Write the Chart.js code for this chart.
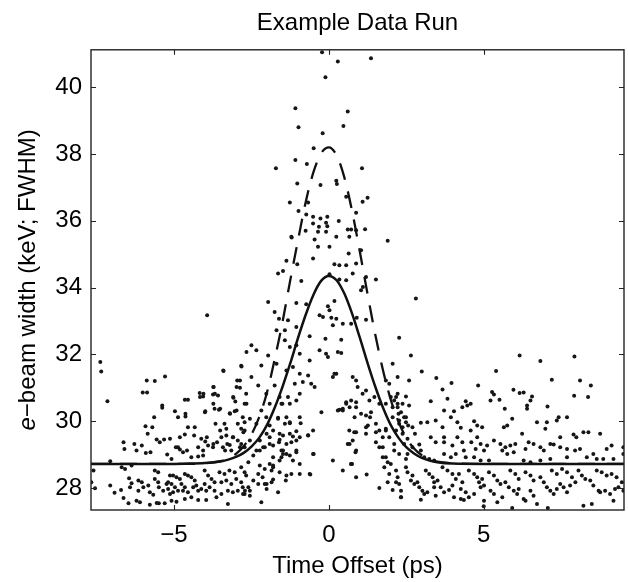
<!DOCTYPE html>
<html>
<head>
<meta charset="utf-8">
<script src="https://cdn.jsdelivr.net/npm/chart.js@4.4.0/dist/chart.umd.min.js"></script>
<style>
  html, body { margin: 0; padding: 0; background: #fff; }
  canvas { display: block; }
</style>
</head>
<body>
<canvas id="chart" width="628" height="582"></canvas>
<script>
// axis limits and ticks
const xRange = [-7.68, 9.53];
const yRange = [27.34, 41.12];
const xTicks = [-5, 0, 5];
const yTicks = [28, 30, 32, 34, 36, 38, 40];

// fitted curves
const fitX = [-7.68, -5, -4.5, -4, -3.5, -3.25, -3, -2.75, -2.5, -2.25, -2, -1.75, -1.5, -1.25, -1, -0.75, -0.5, -0.25, 0,
  0.25, 0.5, 0.75, 1, 1.25, 1.5, 1.75, 2, 2.25, 2.5, 2.75, 3, 3.25, 3.5, 4, 5, 9.53];
const solidFit = [28.72, 28.72, 28.73, 28.75, 28.79, 28.85, 28.93, 29.05, 29.24, 29.50, 29.88, 30.40, 31.02, 31.72, 32.48, 33.18, 33.78, 34.20, 34.35,
  34.22, 33.82, 33.22, 32.50, 31.74, 31.03, 30.40, 29.88, 29.50, 29.22, 29.03, 28.90, 28.82, 28.77, 28.73, 28.72, 28.72];
const dashedFit = [28.72, 28.72, 28.72, 28.74, 28.80, 28.88, 29.02, 29.25, 29.60, 30.12, 30.85, 31.85, 32.95, 34.20, 35.40, 36.55, 37.45, 38.02, 38.20,
  37.96, 37.30, 36.29, 35.08, 33.80, 32.59, 31.52, 30.64, 29.98, 29.50, 29.18, 28.98, 28.86, 28.79, 28.74, 28.72, 28.72];

// measured points, [time offset, width]
const dotsLeft = [
  [-3.93,33.17],[-7.38,31.77],[-7.35,31.49],[-7.15,30.6],[-3.40,31.5],[-2.83,31.66],[-5.88,31.22],[-5.62,31.2],[-5.29,31.34],
  [-6.01,30.86],[-5.87,30.86],[-5.38,30.47],[-5.38,30.4],[-4.65,30.64],[-4.55,30.64],[-4.17,30.84],[-4.06,30.74],[-3.72,31.02],
  [-3.74,30.8],[-3.58,30.77],[-3.99,30.3],[-3.69,30.37],[-3.55,30.34],[-2.96,31.22],[-2.87,31.0],[-3.08,30.7],[-3.02,30.59],
  [-3.2,30.24],[-3.04,30.3],[-4.97,30.3],[-4.87,30.12],[-4.63,30.22],[-4.63,30.14],[-5.64,30.12],[-5.92,29.85],[-5.70,29.82],
  [-5.85,29.62],[-6.63,29.37],[-6.6,29.17],[-6.28,29.32],[-6.04,29.27],[-6.21,29.12],[-5.91,29.05],[-5.76,29.07],[-7.06,28.8],
  [-5.56,29.45],[-5.46,29.37],[-5.32,29.45],[-5.13,29.47],[-5.22,29.0],[-5.08,28.87],[-4.94,29.22],[-4.87,29.22],[-4.81,29.15],
  [-4.71,29.07],[-4.58,29.12],[-4.81,29.52],[-4.65,29.6],[-4.55,29.82],[-4.33,29.82],[-4.35,29.57],[-4.12,29.47],[-3.99,29.39],
  [-4.22,29.22],[-4.06,29.12],[-4.44,28.92],[-4.22,28.94],[-4.06,28.97],[-3.9,29.27],[-3.74,29.22],[-3.61,29.37],[-3.66,29.92],
  [-3.37,29.92],[-3.31,29.77],[-3.47,29.52],[-3.31,29.57],[-3.2,29.29],[-3.42,29.22],[-3.28,29.32],[-3.15,29.12],[-3.1,29.52],
  [-2.94,29.42],[-2.83,29.32],[-2.72,29.22],[-2.94,29.92],[-2.83,29.77],[-2.72,29.72],[-2.78,30.12],[-2.72,29.97],[-2.67,30.82],
  [-2.72,30.52],[-2.66,32.07],[-2.82,31.64],[-2.87,31.22],[-2.98,31.02],[-3.41,31.52],[-3.73,31.02],[-3.68,30.82],[-4.05,30.82],
  [-4.16,30.72],[-4.0,30.27],[-3.73,30.52],[-3.51,30.37],[-3.19,30.22],[-2.98,30.32],[-3.09,30.72],[-2.66,30.52],[-2.55,30.07],
  [-3.94,29.52],[-3.73,29.32],[-3.51,29.72],[-3.35,29.12],[-3.09,29.52],[-2.87,29.22],[-2.76,29.67],[-2.55,29.42],
  [-7.6,28.52],[-7.55,27.99],[-7.67,28.17],[-7.06,28.07],[-6.92,27.86],[-6.71,27.94],[-6.63,27.7],[-6.69,28.62],[-6.58,28.57],
  [-6.37,28.67],[-6.45,28.29],[-6.37,28.14],[-6.42,28.02],[-6.15,28.22],[-6.04,28.17],[-6.15,27.92],[-5.99,28.02],[-6.21,27.62],
  [-6.1,27.57],[-5.78,27.5],[-6.47,27.54],[-5.78,27.87],[-5.67,27.8],[-5.83,28.07],[-5.62,28.52],[-5.51,28.47],[-5.62,28.27],
  [-5.51,28.17],[-5.49,28.02],[-5.35,27.92],[-5.24,28.12],[-5.19,27.97],[-5.56,27.55],[-5.49,27.54],[-5.3,27.54],[-5.08,27.62],
  [-4.92,27.59],[-5.13,28.37],[-5.03,28.37],[-4.92,28.32],[-4.81,28.27],[-5.19,28.17],[-5.08,28.12],[-4.97,28.02],[-4.87,27.92],
  [-5.03,27.87],[-5.13,27.82],[-4.76,28.12],[-4.65,28.02],[-4.71,27.92],[-4.55,27.87],[-4.65,28.42],[-4.55,28.37],[-4.44,28.32],
  [-4.33,28.22],[-4.38,28.02],[-4.22,27.92],[-4.28,28.07],[-4.12,27.97],[-4.65,27.67],[-4.44,27.72],[-4.22,27.64],[-3.96,27.64],
  [-4.01,28.52],[-3.9,28.37],[-3.79,28.27],[-3.69,28.17],[-4.01,28.12],[-3.85,28.02],[-3.69,27.92],[-3.96,27.92],[-3.63,27.72],
  [-3.47,27.82],[-3.26,27.52],[-3.53,28.47],[-3.37,28.42],[-3.21,28.52],[-3.04,28.47],[-3.47,28.17],[-3.31,28.22],[-3.15,28.12],
  [-2.99,28.27],[-2.83,28.17],[-3.26,27.92],[-3.1,27.87],[-2.94,27.92],[-2.78,28.02],[-2.72,27.82],[-2.83,28.62],[-2.72,28.47],
  [-2.67,28.37],[-2.71,27.92],[-2.6,28.02],[-2.77,27.82],[-2.55,27.77]
];
const dotsCentre = [
  [-2.18,27.57],[-1.64,27.87],[-2.01,28.12],[-1.85,28.17],[-2.28,28.42],[-2.14,28.32],[-2.44,28.22],[-2.23,28.67],[-2.07,28.57],
  [-1.91,28.72],[-1.8,28.62],[-1.59,28.47],[-1.37,28.37],[-1.21,28.42],[-0.94,28.42],[-0.62,28.42],[-1.53,28.92],[-1.37,29.02],
  [-1.05,29.07],[-1.48,29.12],[-0.51,29.02],[-1.91,29.32],[-1.8,29.27],[-1.61,29.37],[0.61,29.32],[0.72,28.72],
  [-0.24,30.27],[-0.67,29.57],[-0.49,29.02],[-0.6,28.4],[-1.39,28.22],[-0.91,29.94],[-1.05,29.7],[-1.26,29.94],[-1.42,29.92],
  [-1.16,29.54],[-1.21,29.37],[-1.48,29.57],[-1.59,29.44],[-1.26,28.97],[-1.48,29.02],[-1.59,28.82],[-1.8,28.67],[-1.85,28.52],
  [-1.8,28.25],[-2.01,27.97],[-2.07,28.12],[-2.28,28.12],[-2.55,27.92],[-1.64,30.1],[-1.91,29.87],[-1.8,29.72],[-2.01,29.62],
  [-2.23,29.42],[-2.07,29.22],[-2.23,29.12],[-2.44,28.97],[-2.6,28.77],[-1.5,30.52],
  [0.34,30.34],[0.45,30.32],[0.56,30.57],[0.88,30.57],[0.67,30.42],[0.83,30.12],[0.88,29.67],[0.67,29.32],[0.86,29.07],
  [0.75,28.72],[1.22,28.4],[1.2,30.17],[1.33,30.12],[1.26,29.87],[1.2,29.62],[1.52,29.67],[1.52,29.37],[1.63,29.22],[1.74,29.52],
  [1.84,29.77],[1.74,28.92],[1.9,28.77],[1.79,28.62],[1.95,28.42],[1.9,28.17],[1.63,28.0],[2.06,27.94],[2.33,27.72],[2.17,28.17],
  [2.11,29.12],[2.27,29.02],[2.43,29.32],[2.49,28.87],[2.27,30.02],[2.38,29.82],[2.49,30.12],[2.06,30.42],[2.22,30.52],
  [-1.21,35.52],[-0.35,35.67],[-0.09,35.67],[0.24,35.52],[0.66,35.52],[0.88,35.72],[-0.46,35.44],[-0.35,35.22],[0.02,35.22],
  [-0.51,34.87],[0.64,35.02],[1.04,35.12],[1.9,35.4],[-1.37,34.8],[-1.02,34.7],[0.18,34.7],[0.34,34.67],[0.56,34.67],[0.88,34.72],
  [0.77,34.42],[0.56,34.22],[0.34,34.24],[-0.89,34.2],[-1.48,34.5],[-1.64,34.42],[0.02,34.4],[1.2,34.32],[1.52,34.24],[1.04,33.92],
  [1.1,34.02],[-1.96,33.57],[-1.05,33.54],[-0.73,33.5],[-1.75,33.27],[-0.03,33.44],[0.02,33.32],[0.18,33.6],[-0.3,33.17],
  [-0.19,33.12],[0.08,33.1],[0.24,33.07],[0.72,32.92],[0.45,32.92],[0.9,33.1],[1.2,33.04],[-1.61,33.07],[-1.32,33.02],
  [-1.05,32.82],[-1.42,32.72],[-1.69,32.72],[-0.62,32.54],[-0.11,32.47],[0.4,32.44],[0.13,32.87],[-2.5,32.27],[-2.34,32.12],
  [-1.96,31.97],[-1.42,32.42],[-1.26,32.22],[-1.05,32.27],[-0.94,32.02],[-0.62,31.82],[-0.3,32.12],[-0.09,32.02],[-0.03,31.92],
  [0.29,32.07],[0.4,32.04],[-2.18,31.67],[-2.5,31.32],[-1.69,31.72],[-1.37,31.52],[-1.16,31.62],[-0.94,31.42],[-0.67,31.37],
  [-1.1,31.12],[-0.84,31.17],[-0.57,31.12],[-0.94,30.82],[-2.28,31.07],[-2.02,30.82],[-1.75,31.07],[-1.59,30.72],[-1.32,30.72],
  [-1.05,30.62],[-1.53,30.52],[-1.26,30.52],[0.13,31.32],[0.18,31.42],[0.24,31.42],[-0.46,31.02],[0.77,31.32],[0.88,31.22],
  [0.93,31.02],[1.09,30.82],[1.2,30.92],[1.31,30.62],[1.47,30.72],[1.63,30.52],[1.84,30.52],[2.0,30.72],[0.56,30.52],[0.72,30.62],
  [0.88,30.42],[1.04,30.22],[1.36,30.27],[1.2,29.82],[1.52,29.92],[1.63,29.72],[0.29,30.32],[0.45,30.37],[0.66,29.72],[0.77,29.42],
  [0.88,29.12],[0.82,29.67],[1.84,31.22],[1.95,31.12],[2.06,31.72],[2.17,30.72],[2.25,30.22],[2.06,30.12],[1.84,29.72],[1.95,29.52],
  [2.11,29.32],[1.74,29.22],[1.84,28.92],[2.0,28.72],[-2.18,30.32],[-2.02,30.12],[-1.91,30.52],[-1.64,30.07],[-1.37,30.12],
  [-1.26,29.97],[-1.59,29.62],[-1.26,29.62],[-1.05,29.42],[-0.94,29.52],[-1.05,29.12],[-1.16,28.82],[-0.94,28.72],[-2.34,29.92],
  [-2.34,29.12],[-2.12,29.22],[-1.91,29.52],[-1.8,28.92],[-1.53,29.12],[-1.37,29.32],[-0.51,29.72],[-0.67,29.58],[-0.94,30.12],
  [0.13,28.82],[0.45,28.52],[0.72,28.72],[0.88,28.32],
  [-0.22,41.05],[0.29,40.77],[1.36,40.87],[-0.11,40.3],[-1.08,39.37],[0.61,39.27],[-0.98,38.8],[0.47,38.84],[-0.2,38.62],
  [-0.49,38.17],[-1.08,37.82],[-0.71,37.7],[-1.71,37.57],[1.07,37.57],[-1.02,37.12],[-0.27,37.07],[0.24,37.2],[0.26,37.1],
  [0.56,36.72],[1.25,36.69],[1.09,36.57],[-1.26,36.55],[-0.67,36.55],[-0.98,36.29],[-0.73,36.19],[-0.51,36.12],[-0.27,36.07],
  [-0.05,36.12],[0.32,35.99],[0.88,36.24],[-0.51,35.92],[-0.32,35.82],[-0.09,35.94],[-0.05,35.84],[-0.75,35.7],[0.61,35.74],
  [0.72,35.74],[1.17,35.75],[-1.2,35.5]
];
const dotsRight = [
  [2.81,33.67],[2.27,32.5],[2.65,31.97],[6.16,31.97],[6.83,31.8],[7.93,31.94],[5.4,31.5],[3.0,31.49],[2.22,31.32],[2.59,31.22],
  [3.47,31.29],[3.96,31.14],[3.67,30.95],[4.82,31.07],[7.2,31.24],[8.11,31.22],[8.46,31.07],[7.92,30.76],[8.37,30.72],
  [5.96,30.94],[6.29,30.86],[6.16,30.84],[5.27,30.87],[5.33,30.8],[5.51,30.64],[5.22,30.62],[6.56,30.74],[6.51,30.62],[6.4,30.47],
  [6.4,30.37],[2.22,30.82],[2.49,30.74],[2.38,30.52],[2.59,30.47],[3.29,30.6],[3.83,30.67],[3.72,30.32],[4.04,30.3],[4.42,30.6],
  [4.58,30.52],[4.31,30.42],[4.47,30.47],[5.68,30.37],[5.92,30.07],[5.76,29.87],[5.65,29.82],[7.06,30.44],[7.04,29.97],[7.42,30.12],
  [7.36,30.02],[7.69,30.12],[6.72,29.97],[6.99,29.77],[7.47,29.52],[7.9,29.6],[7.99,29.52],[8.22,29.67],[8.38,29.67],[8.76,29.62],
  [2.56,29.87],[2.7,29.82],[2.97,29.95],[3.18,29.97],[3.45,30.02],[3.67,29.82],[3.94,30.12],[4.15,29.97],[4.26,29.8],[4.69,30.0],
  [4.79,29.87],[4.95,29.82],[4.58,29.72],[2.78,29.62],[2.92,29.3],[3.29,29.52],[3.45,29.37],[3.72,29.37],[3.99,29.27],[3.72,29.52],
  [4.15,29.52],[4.31,29.37],[4.36,29.12],[4.79,29.52],[4.9,29.32],[5.11,29.27],[5.01,29.12],[4.74,29.17],[4.6,29.37],[5.33,29.42],
  [5.54,29.32],[5.7,29.22],[5.86,29.27],[6.02,29.32],[5.97,29.07],[5.76,29.02],[5.6,29.12],[6.24,29.62],[6.45,29.37],[6.61,29.32],
  [6.35,29.17],[6.83,29.22],[6.94,29.12],[7.15,29.32],[7.26,29.3],[7.47,29.22],[7.69,29.17],[7.69,28.92],[7.95,29.12],[8.11,29.17],
  [8.54,29.02],[8.97,29.17],[9.13,29.27],[9.19,28.87],[9.51,29.22],[9.51,29.02],[8.33,28.92],[8.65,28.87],[8.86,28.87],
  [3.72,29.02],[3.94,28.92],[4.1,29.02],[4.42,28.92],[4.69,28.92],[4.9,28.82],[5.17,28.82],[6.29,28.82],[6.51,28.77],[6.83,28.82],
  [7.15,28.87],[2.11,30.62],[2.22,30.42],[2.33,30.27],[2.43,30.12],[2.49,29.97],[2.27,29.92],[2.17,29.72],[2.38,29.62],[2.54,29.47],
  [2.7,29.22],[2.54,29.02],[2.97,29.12],[3.08,28.92],[3.24,28.87],[3.4,28.82],
  [2.17,28.52],[2.22,28.32],[2.27,28.12],[2.33,27.92],[2.33,27.72],[2.49,28.62],[2.54,28.47],[2.7,28.37],[2.65,28.22],[2.76,28.12],
  [2.86,28.17],[2.92,28.02],[3.02,27.92],[3.08,27.82],[3.18,27.87],[2.97,27.65],[3.13,28.52],[3.24,28.42],[3.35,28.32],[3.4,28.17],
  [3.51,28.22],[3.4,28.02],[3.45,27.77],[3.61,28.02],[3.72,27.87],[3.88,27.94],[3.99,28.07],[4.04,27.72],[3.67,28.62],[3.83,28.52],
  [3.99,28.42],[4.1,28.27],[4.2,28.42],[4.31,28.17],[4.26,27.97],[4.42,27.87],[4.26,27.67],[4.36,27.64],[4.52,27.72],[4.69,27.82],
  [4.52,28.52],[4.69,28.42],[4.79,28.32],[4.95,28.27],[4.85,28.17],[5.01,28.07],[4.9,28.02],[5.01,27.62],[5.22,27.92],[5.33,27.82],
  [5.44,27.57],[5.6,27.72],[5.17,28.47],[5.33,28.37],[5.44,28.22],[5.54,28.12],[5.7,28.17],[5.81,28.02],[5.86,28.52],[6.02,28.42],
  [6.13,28.27],[5.97,27.92],[6.08,27.82],[6.13,27.97],[6.29,27.67],[6.35,27.62],[6.51,27.92],[6.61,27.77],[6.72,27.52],[6.35,28.47],
  [6.51,28.37],[6.61,28.22],[6.83,28.32],[6.94,28.17],[7.04,28.02],[7.15,27.92],[7.26,27.82],[7.36,27.97],[7.47,28.12],[7.58,28.02],
  [7.69,27.87],[7.79,28.07],[7.2,28.52],[7.36,28.42],[7.53,28.57],[7.69,28.47],[7.85,28.32],[7.96,28.17],[8.06,28.52],[8.17,28.37],
  [8.28,28.27],[8.44,28.22],[8.54,28.07],[8.71,27.92],[8.22,27.47],[8.49,27.52],[8.76,27.87],[8.92,27.92],[9.08,27.82],[9.24,27.97],
  [8.65,28.52],[8.81,28.47],[8.97,28.37],[9.13,28.42],[9.29,28.32],[9.46,28.17],[9.35,28.02],[9.51,27.92],[9.19,27.62],
  [5.0,27.45],[5.92,27.4],[7.07,27.4]
];

const FONT = '"Liberation Sans", Arial, Helvetica, sans-serif';
const INK = '#111';

const toPoints = (xs, ys) => xs.map((x, i) => ({ x: x, y: ys[i] }));
const pairPoints = (list) => list.map(p => ({ x: p[0], y: p[1] }));
const minus = (v) => String(v).replace('-', '\u2212');

// box round the plot, inward ticks on all four sides, and the y label with an italic e
const framePlugin = {
  id: 'frame',
  afterDraw(chart) {
    const { ctx, chartArea: a, scales } = chart;
    const tick = 5;
    ctx.save();
    ctx.strokeStyle = '#222';
    ctx.lineWidth = 1.4;
    ctx.strokeRect(a.left, a.top, a.right - a.left, a.bottom - a.top);
    ctx.lineWidth = 1.1;
    ctx.beginPath();
    scales.x.ticks.forEach(t => {
      const px = Math.round(scales.x.getPixelForValue(t.value)) + 0.5;
      ctx.moveTo(px, a.bottom); ctx.lineTo(px, a.bottom - tick);
      ctx.moveTo(px, a.top); ctx.lineTo(px, a.top + tick);
    });
    scales.y.ticks.forEach(t => {
      const py = Math.round(scales.y.getPixelForValue(t.value)) + 0.5;
      ctx.moveTo(a.left, py); ctx.lineTo(a.left + tick, py);
      ctx.moveTo(a.right, py); ctx.lineTo(a.right - tick, py);
    });
    ctx.stroke();

    // y axis title
    const size = 24;
    const italic = 'italic ' + size + 'px ' + FONT;
    const upright = size + 'px ' + FONT;
    const head = 'e';
    const rest = '\u2212beam width (keV; FWHM)';
    ctx.font = italic;
    const w1 = ctx.measureText(head).width;
    ctx.font = upright;
    const w2 = ctx.measureText(rest).width;
    const cy = (a.top + a.bottom) / 2;
    ctx.translate(35, cy);
    ctx.rotate(-Math.PI / 2);
    ctx.fillStyle = '#000';
    ctx.textBaseline = 'alphabetic';
    ctx.textAlign = 'left';
    const start = -(w1 + w2) / 2;
    ctx.font = italic;
    ctx.fillText(head, start, 0);
    ctx.font = upright;
    ctx.fillText(rest, start + w1, 0);
    ctx.restore();
  }
};

new Chart(document.getElementById('chart'), {
  type: 'scatter',
  data: {
    datasets: [
      {
        label: 'fit',
        data: toPoints(fitX, solidFit),
        showLine: true,
        borderColor: INK,
        borderWidth: 2.5,
        pointRadius: 0,
        cubicInterpolationMode: 'monotone',
        order: 0
      },
      {
        label: 'fit (dashed)',
        data: toPoints(fitX, dashedFit),
        showLine: true,
        borderColor: INK,
        borderWidth: 2.3,
        borderDash: [17, 12],
        pointRadius: 0,
        cubicInterpolationMode: 'monotone',
        order: 1
      },
      {
        label: 'data',
        data: pairPoints(dotsLeft.concat(dotsCentre, dotsRight)),
        pointRadius: 2,
        pointBorderWidth: 0,
        pointBackgroundColor: '#161616',
        order: 2
      }
    ]
  },
  options: {
    responsive: false,
    devicePixelRatio: 1,
    animation: false,
    events: [],
    layout: { padding: { left: 0, right: 2, top: 0, bottom: 0 } },
    plugins: {
      legend: { display: false },
      tooltip: { enabled: false },
      title: {
        display: true,
        text: 'Example Data Run',
        fullSize: false,
        color: '#000',
        font: { family: FONT, size: 24, weight: 'normal', lineHeight: 1.2 },
        padding: { top: 9, bottom: 12 }
      }
    },
    scales: {
      x: {
        type: 'linear',
        position: 'bottom',
        min: xRange[0],
        max: xRange[1],
        grid: { display: false, drawTicks: false },
        border: { display: false },
        afterBuildTicks: (s) => { s.ticks = xTicks.map(v => ({ value: v })); },
        afterFit: (s) => { s.height = 72; },
        ticks: {
          color: '#000',
          padding: 11,
          maxRotation: 0,
          font: { family: FONT, size: 24 },
          callback: (v) => minus(v)
        },
        title: {
          display: true,
          text: 'Time Offset (ps)',
          color: '#000',
          font: { family: FONT, size: 24 },
          padding: { top: 0, bottom: 1 }
        }
      },
      y: {
        type: 'linear',
        position: 'left',
        min: yRange[0],
        max: yRange[1],
        grid: { display: false, drawTicks: false },
        border: { display: false },
        afterBuildTicks: (s) => { s.ticks = yTicks.map(v => ({ value: v })); },
        afterFit: (s) => { s.width = 91; },
        ticks: {
          color: '#000',
          padding: 9,
          font: { family: FONT, size: 24 },
          callback: (v) => minus(v)
        }
      }
    }
  },
  plugins: [framePlugin]
});
</script>
</body>
</html>
